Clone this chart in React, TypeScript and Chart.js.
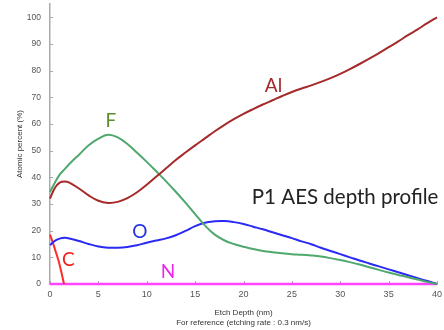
import React, { useEffect, useRef } from "react";
import { Chart, registerables } from "chart.js";

Chart.register(...registerables);

// Etch depth (nm) shared by Al, F and O profiles
const depth = [0, 0.5, 1, 1.5, 2, 3, 4, 5, 6, 7, 8, 9, 10, 11, 12, 13, 14, 15, 16, 17, 18, 19, 20, 21, 22, 23, 24, 25, 26, 27, 28, 29, 30, 31, 32, 33, 34, 35, 36, 37, 38, 39, 40];
const aluminium = [32, 36, 38, 38.4, 38, 35.8, 33.2, 31.2, 30.4, 30.8, 32.2, 34.4, 37.2, 40.3, 43.4, 46.5, 49.3, 52, 54.6, 57.2, 59.6, 61.8, 63.8, 65.6, 67.3, 68.9, 70.5, 72, 73.3, 74.5, 75.8, 77.2, 78.8, 80.6, 82.5, 84.5, 86.6, 88.8, 91, 93.3, 95.5, 97.8, 100];
const fluorine = [34.5, 38, 41, 43, 45, 48.5, 52, 54.5, 56, 55, 52.5, 49.2, 45.8, 42.2, 38.5, 34.6, 30.5, 26.2, 22, 18.6, 16.4, 15, 14, 13.1, 12.4, 11.9, 11.5, 11.2, 11, 10.7, 10.3, 9.7, 9, 8.2, 7.3, 6.3, 5.3, 4.3, 3.4, 2.5, 1.7, 0.8, 0];
const oxygen = [14.6, 16.2, 17, 17.3, 17.1, 16.1, 15, 14.1, 13.6, 13.6, 13.9, 14.5, 15.5, 16.3, 17.1, 18.3, 19.9, 21.7, 23, 23.5, 23.6, 23.2, 22.5, 21.5, 20.5, 19.4, 18.3, 17.2, 16, 14.9, 13.6, 12.4, 11.2, 10, 8.8, 7.7, 6.6, 5.5, 4.4, 3.3, 2.2, 1.1, 0];
const depthC = [0, 0.3, 0.6, 0.9, 1.2, 1.45];
const carbon = [18.5, 15.5, 12, 8.5, 4, 0];
const depthN = [0, 40];
const nitrogen = [0, 0];

const xTitle = ["Etch Depth (nm)", "For reference (etching rate : 0.3 nm/s)"];
const yTitle = "Atomic percent (%)";

// In-plot element labels (data coordinates)
const labelTexts = ["Al", "F", "O", "C", "N"];
const labelX = [23.1, 6.3, 9.3, 1.9, 12.2];
const labelY = [74.2, 61.1, 19.5, 9, 4.5];
const labelColors = ["#a3282c", "#5b8c2e", "#2432e0", "#f02020", "#ee22ee"];
const profileTitle = "P1 AES depth profile";
const profileTitleX = 30.5;
const profileTitleY = 32.5;

const pts = (xs: number[], ys: number[]) => xs.map((x, i) => ({ x, y: ys[i] }));

const innerTicks = {
  id: "innerTicks",
  beforeDatasetsDraw(chart: any) {
    const { ctx, scales, chartArea } = chart;
    ctx.save();
    ctx.strokeStyle = "#aaaaaa";
    ctx.lineWidth = 1;
    scales.y.ticks.forEach((t: any) => {
      const y = Math.round(scales.y.getPixelForValue(t.value)) + 0.5;
      ctx.beginPath();
      ctx.moveTo(chartArea.left, y);
      ctx.lineTo(chartArea.left + 3, y);
      ctx.stroke();
    });
    scales.x.ticks.forEach((t: any) => {
      const x = Math.round(scales.x.getPixelForValue(t.value)) + 0.5;
      ctx.beginPath();
      ctx.moveTo(x, chartArea.bottom);
      ctx.lineTo(x, chartArea.bottom - 3);
      ctx.stroke();
    });
    ctx.restore();
  },
};

const labelsPlugin = {
  id: "elementLabels",
  afterDatasetsDraw(chart: any) {
    const { ctx, scales } = chart;
    ctx.save();
    ctx.textAlign = "center";
    ctx.textBaseline = "middle";
    ctx.font = "19px Lato, 'Open Sans', sans-serif";
    labelTexts.forEach((t, i) => {
      ctx.fillStyle = labelColors[i];
      ctx.fillText(t, scales.x.getPixelForValue(labelX[i]), scales.y.getPixelForValue(labelY[i]));
    });
    ctx.font = "20.5px Lato, 'Open Sans', sans-serif";
    ctx.fillStyle = "#222222";
    ctx.fillText(profileTitle, scales.x.getPixelForValue(profileTitleX), scales.y.getPixelForValue(profileTitleY));
    ctx.restore();
  },
};

export default function App() {
  const ref = useRef<HTMLCanvasElement>(null);
  useEffect(() => {
    if (!ref.current) return;
    const common = { pointRadius: 0, borderWidth: 2, tension: 0.4, clip: false as any, fill: false };
    const chart = new Chart(ref.current, {
      type: "line",
      data: {
        datasets: [
          { ...common, label: "Al", data: pts(depth, aluminium), borderColor: "#a52a2a" },
          { ...common, label: "F", data: pts(depth, fluorine), borderColor: "#4fa86e" },
          { ...common, label: "O", data: pts(depth, oxygen), borderColor: "#2a2af5" },
          { ...common, label: "C", data: pts(depthC, carbon), borderColor: "#ff2a2a", tension: 0.2 },
          { ...common, label: "N", data: pts(depthN, nitrogen), borderColor: "#ff44ff", borderWidth: 2.5, tension: 0 },
        ],
      },
      options: {
        responsive: false,
        animation: false,
        devicePixelRatio: 1,
        layout: { padding: { top: 4, right: 7, left: 0, bottom: 0 } },
        plugins: { legend: { display: false }, tooltip: { enabled: false } },
        scales: {
          x: {
            type: "linear",
            min: 0,
            max: 40,
            ticks: { stepSize: 5, font: { size: 9, family: "'Liberation Sans', Arial, sans-serif" }, color: "#555555", padding: 5, maxRotation: 0 },
            grid: { drawOnChartArea: false, drawTicks: false },
            border: { color: "#aaaaaa", width: 1 },
            title: { display: true, text: xTitle, font: { size: 8, family: "'Liberation Sans', Arial, sans-serif", lineHeight: 1.25 }, color: "#333333", padding: { top: 0, bottom: 2 } },
            afterFit: (s: any) => { s.height = 46; s.paddingLeft = 0; s.paddingRight = 0; },
          },
          y: {
            type: "linear",
            min: 0,
            max: 105,
            ticks: { stepSize: 10, includeBounds: false, font: { size: 8.5, family: "'Liberation Sans', Arial, sans-serif" }, color: "#555555", padding: 9 },
            grid: { drawOnChartArea: false, drawTicks: false },
            border: { color: "#aaaaaa", width: 1.5 },
            title: { display: true, text: yTitle, font: { size: 8, family: "'Liberation Sans', Arial, sans-serif" }, color: "#333333", padding: { top: 15, bottom: 0 } },
            afterFit: (s: any) => { s.width = 50; s.paddingTop = 0; s.paddingBottom = 0; },
          },
        },
      },
      plugins: [innerTicks, labelsPlugin],
    });
    return () => chart.destroy();
  }, []);
  return (
    <canvas
      ref={ref}
      width={444}
      height={330}
      style={{ position: "fixed", left: 0, top: 0, width: 444, height: 330, display: "block", background: "#ffffff" }}
    />
  );
}
